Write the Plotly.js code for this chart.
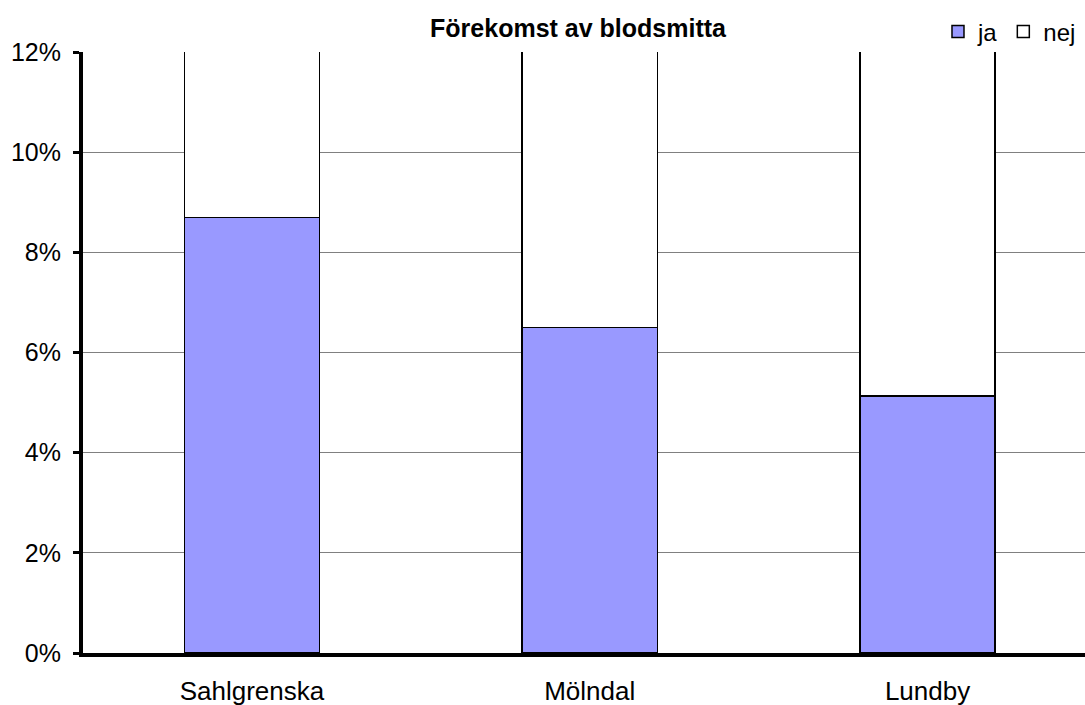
<!DOCTYPE html>
<html>
<head>
<meta charset="utf-8">
<script src="https://cdn.plot.ly/plotly-3.0.1.min.js"></script>
<style>html,body{margin:0;padding:0;background:#fff;}#chart{width:1085px;height:705px;}</style>
</head>
<body>
<div id="chart"></div>
<script>
var categories = ["Sahlgrenska", "Mölndal", "Lundby"];
var jaValues = [8.7, 6.5, 5.13];
var nejValues = [91.3, 93.5, 94.87];
var seriesNames = ["ja", "nej"];
var yTickVals = [0, 2, 4, 6, 8, 10, 12];
var yTickText = ["0%", "2%", "4%", "6%", "8%", "10%", "12%"];
var chartTitle = "Förekomst av blodsmitta";

var FONT = "Liberation Sans, Arial, sans-serif";

var traces = [
  {
    type: "bar", name: seriesNames[0], x: categories, y: jaValues,
    marker: {color: "#9999FF", line: {color: "#000000", width: 1.5}},
    hoverinfo: "skip"
  },
  {
    type: "bar", name: seriesNames[1], x: categories, y: nejValues,
    marker: {color: "#FFFFFF", line: {color: "#000000", width: 1.5}},
    hoverinfo: "skip"
  }
];

var layout = {
  width: 1085, height: 705,
  margin: {l: 82.5, r: 0, t: 52, b: 52, pad: 0, autoexpand: false},
  paper_bgcolor: "#ffffff", plot_bgcolor: "#ffffff",
  barmode: "stack",
  bargap: 0.6,
  font: {family: FONT, color: "#000000", size: 25},
  title: {
    text: "<b>" + chartTitle + "</b>",
    font: {family: FONT, size: 25, color: "#000000"},
    x: 578 / 1085, xanchor: "center", xref: "container",
    y: 1 - 28 / 705, yanchor: "middle", yref: "container"
  },
  showlegend: true,
  legend: {
    orientation: "h",
    x: 0.996, xanchor: "right",
    y: (653 - 32) / 601, yanchor: "middle",
    font: {family: FONT, size: 24, color: "#000000"},
    traceorder: "normal",
    itemwidth: 30,
    bgcolor: "rgba(0,0,0,0)"
  },
  xaxis: {
    type: "category",
    range: [-0.5, 2.466],
    showgrid: false, zeroline: false,
    showline: true, linecolor: "#000000", linewidth: 4,
    ticks: "", ticklabelstandoff: 12,
    tickfont: {family: FONT, size: 26, color: "#000000"},
    fixedrange: true
  },
  yaxis: {
    range: [0, 12],
    tickvals: yTickVals, ticktext: yTickText,
    showgrid: true, gridcolor: "#808080", gridwidth: 1,
    zeroline: false,
    showline: true, linecolor: "#000000", linewidth: 4,
    ticks: "outside", ticklen: 6, tickwidth: 3, tickcolor: "#000000",
    ticklabelstandoff: 7,
    tickfont: {family: FONT, size: 25, color: "#000000"},
    fixedrange: true
  }
};

Plotly.newPlot("chart", traces, layout, {staticPlot: true, displayModeBar: false});
</script>
</body>
</html>
